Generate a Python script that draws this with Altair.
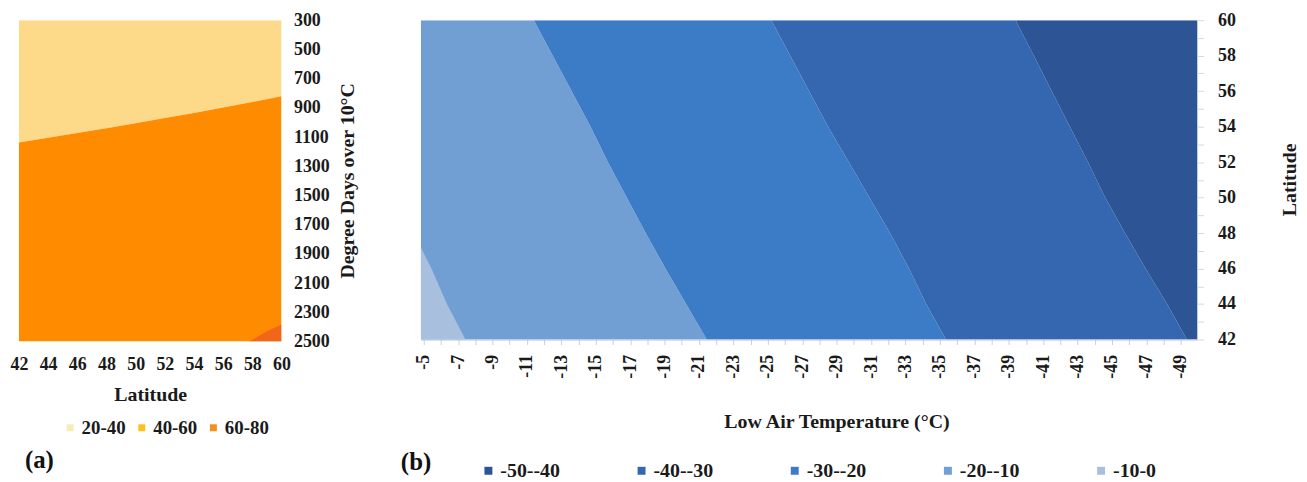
import altair as alt
import pandas as pd

SERIF = "Liberation Serif"

# ---------------- Panel (a): latitude vs degree days ----------------
LAT_A = [42, 44, 46, 48, 50, 52, 54, 56, 58, 60]
DD_TOP = [300, 300, 300, 300, 300, 300, 300, 300, 300, 300]
DD_BOUND = [1138, 1105, 1073, 1040, 1005, 970, 935, 898, 860, 820]
DD_BOTTOM = [2500, 2500, 2500, 2500, 2500, 2500, 2500, 2500, 2500, 2500]
CORNER_LAT = [57.75, 58, 59, 60]
CORNER_DD = [2500, 2488, 2430, 2384]
CORNER_BOTTOM = [2500, 2500, 2500, 2500]
DD_TICKS = [300, 500, 700, 900, 1100, 1300, 1500, 1700, 1900, 2100, 2300, 2500]
LAT_A_TICKS = [42, 44, 46, 48, 50, 52, 54, 56, 58, 60]
SURF_A = ["upper", "middle", "corner"]
SURF_COLORS_A = ["#FDD98A", "#FF8C00", "#F0661A"]
LEGEND_A = ["20-40", "40-60", "60-80"]
LEGEND_COLORS_A = ["#F5EDB5", "#FFC11F", "#F6901C"]

# ---------------- Panel (b): low air temperature vs latitude ----------------
LAT_B = [42, 44, 46, 48, 50, 52, 54, 56, 58, 60]
B10_LAT = [42, 44, 46, 47.2]
B10 = [-7.43, -6.35, -5.45, -4.83]
B20 = [-21.45, -20.25, -19.05, -17.9, -16.8, -15.7, -14.7, -13.6, -12.5, -11.4]
B30 = [-35.35, -34.2, -33.2, -32.1, -30.9, -29.7, -28.5, -27.4, -26.3, -25.2]
B40 = [-49.35, -48.2, -46.95, -45.75, -44.6, -43.6, -42.55, -41.5, -40.45, -39.4]
TEMP_WARM = -4.83
TEMP_COLD = -49.97
TEMP_TICKS = list(range(-5, -50, -1))
LAT_B_TICKS = list(range(42, 61))
BANDS_B = ["-50--40", "-40--30", "-30--20", "-20--10", "-10-0"]
COLORS_B = ["#2D5494", "#3467AF", "#3C7BC5", "#719FD4", "#A9BFDE"]


def rows(band, lats, lo, hi):
    return [{"band": band, "lat": a, "lo": b, "hi": c} for a, b, c in zip(lats, lo, hi)]


df_a_main = pd.DataFrame(rows("upper", LAT_A, DD_TOP, DD_BOUND) + rows("middle", LAT_A, DD_BOUND, DD_BOTTOM))
df_a_corner = pd.DataFrame(rows("corner", CORNER_LAT, CORNER_DD, CORNER_BOTTOM))
df_a_legend = pd.DataFrame({"lband": LEGEND_A})

warm = [TEMP_WARM] * len(LAT_B)
cold = [TEMP_COLD] * len(LAT_B)
df_b_main = pd.DataFrame(
    rows("-20--10", LAT_B, warm, B20)
    + rows("-30--20", LAT_B, B20, B30)
    + rows("-40--30", LAT_B, B30, B40)
    + rows("-50--40", LAT_B, B40, cold)
)
df_b_top = pd.DataFrame(rows("-10-0", B10_LAT, [TEMP_WARM] * len(B10_LAT), B10))

lab = dict(labelFont=SERIF, labelFontSize=18, labelFontWeight="bold", labelColor="#1a1a1a",
           titleFont=SERIF, titleFontSize=20, titleFontWeight="bold", titleColor="#1a1a1a")

# ---- panel a ----
xa = alt.X("lat:Q", scale=alt.Scale(domain=[42, 60], nice=False, zero=False),
           axis=alt.Axis(values=LAT_A_TICKS, title="Latitude", grid=False, ticks=False, domain=False,
                         labelFlush=False, labelPadding=14, titleY=53, titleBaseline="middle", **lab))
ya = alt.Y("lo:Q", scale=alt.Scale(domain=[300, 2500], reverse=True, nice=False, zero=False),
           axis=alt.Axis(orient="right", values=DD_TICKS, format="d", title="Degree Days over 10°C",
                         grid=False, ticks=False, domain=False, labelFlush=False, labelPadding=12,
                         titleAngle=270, titleX=66, titleY=161, titleAlign="center",
                         titleBaseline="middle", **lab))
fa = alt.Fill("band:N", scale=alt.Scale(domain=SURF_A, range=SURF_COLORS_A), legend=None)
ca = alt.Color("lband:N", scale=alt.Scale(domain=LEGEND_A, range=LEGEND_COLORS_A),
               legend=alt.Legend(orient="none", legendX=42, legendY=400, direction="horizontal",
                                 columns=3, title=None, symbolType="square",
                                 symbolSize=49, symbolStrokeWidth=0, symbolOpacity=1,
                                 labelFont=SERIF, labelFontSize=19, labelFontWeight="bold",
                                 labelColor="#1a1a1a", labelOffset=2, columnPadding=6,
                                 gridAlign="all", padding=0))

a_main = alt.Chart(df_a_main).mark_area(clip=True).encode(x=xa, y=ya, y2="hi:Q", fill=fa)
a_corner = alt.Chart(df_a_corner).mark_area(clip=True).encode(x=xa, y=ya, y2="hi:Q", fill=fa)
a_legend = alt.Chart(df_a_legend).mark_square(opacity=0, size=1).encode(color=ca)
a_text = alt.Chart(pd.DataFrame({"t": ["(a)"]})).mark_text(
    align="left", baseline="middle", font=SERIF, fontSize=25, fontWeight="bold", color="#111"
).encode(text="t:N", x=alt.value(6), y=alt.value(442))
panel_a = alt.layer(a_main, a_corner, a_legend, a_text).properties(width=264, height=323)

# ---- panel b ----
xb = alt.X("lo:Q", scale=alt.Scale(domain=[TEMP_COLD, TEMP_WARM], reverse=True, nice=False, zero=False),
           axis=alt.Axis(values=TEMP_TICKS, title="Low Air Temperature (°C)", grid=False,
                         labelExpr="abs(datum.value) % 2 == 1 ? '-' + abs(datum.value) : ''",
                         labelAngle=270, labelFlush=False, labelOverlap=False, labelPadding=10,
                         tickColor="#cfcfcf", tickSize=5, domainColor="#a9bfe0",
                         titleX=418, titleY=82, titleBaseline="middle", **lab))
yb = alt.Y("lat:Q", scale=alt.Scale(domain=[42, 60], nice=False, zero=False),
           axis=alt.Axis(orient="right", values=LAT_B_TICKS, title="Latitude", grid=False,
                         labelExpr="datum.value % 2 == 0 ? datum.label : ''", labelOverlap=False,
                         labelFlush=False, domain=False, tickColor="#d8d8d8", tickSize=6,
                         labelPadding=14, titleAngle=270, titleX=92, titleY=160,
                         titleAlign="center", titleBaseline="middle", **lab))
cb = alt.Color("band:N", scale=alt.Scale(domain=BANDS_B, range=COLORS_B),
               legend=alt.Legend(orient="none", legendX=58, legendY=443, direction="horizontal",
                                 columns=5, title=None, symbolType="square", symbolSize=64,
                                 symbolStrokeWidth=0, symbolOpacity=1,
                                 labelFont=SERIF, labelFontSize=20, labelFontWeight="bold",
                                 labelColor="#1a1a1a", labelOffset=2, columnPadding=72,
                                 gridAlign="all", padding=0))

b_main = alt.Chart(df_b_main).mark_area(clip=True, orient="horizontal").encode(
    x=xb, x2="hi:Q", y=yb, color=cb)
b_top = alt.Chart(df_b_top).mark_area(clip=True, orient="horizontal").encode(
    x=xb, x2="hi:Q", y=yb, color=cb)
b_text = alt.Chart(pd.DataFrame({"t": ["(b)"]})).mark_text(
    align="left", baseline="middle", font=SERIF, fontSize=25, fontWeight="bold", color="#111"
).encode(text="t:N", x=alt.value(-20), y=alt.value(444))
panel_b = alt.layer(b_main, b_top, b_text).properties(width=781, height=321)

chart = alt.hconcat(panel_a, panel_b, spacing=140, bounds="flush").resolve_scale(
    color="independent", fill="independent", x="independent", y="independent"
).resolve_legend(color="independent").properties(
    padding={"left": 2, "top": 2, "right": 0, "bottom": 0}, background="white"
).configure_view(stroke=None)

chart.save("out.html", embed_options={"renderer": "svg", "actions": False})
